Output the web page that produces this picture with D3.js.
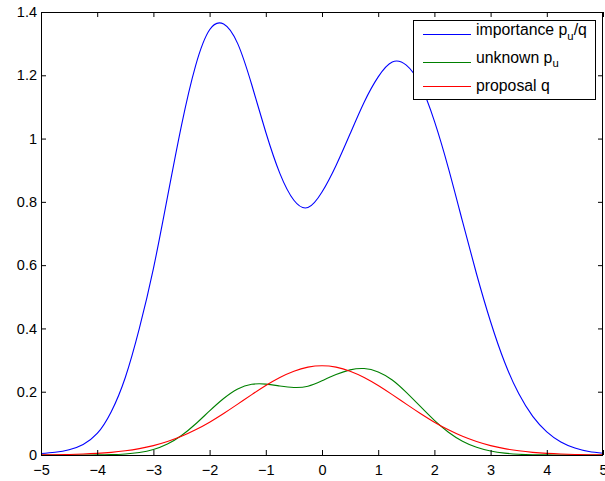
<!DOCTYPE html>
<html><head><meta charset="utf-8">
<script src="https://cdn.jsdelivr.net/npm/d3@7/dist/d3.min.js"></script>
<style>
body{margin:0;background:#fff}
svg{display:block}
text{font-family:"Liberation Sans",Arial,Helvetica,sans-serif}
</style>
</head><body>
<svg id="chart" width="605" height="481"></svg>
<script>
// ---- data ----
const xs = [-5,-4.75,-4.5,-4.25,-4,-3.75,-3.5,-3.25,-3,-2.75,-2.5,-2.25,-2,-1.75,-1.5,-1.25,-1,-0.75,-0.5,-0.25,
            0,0.25,0.5,0.75,1,1.25,1.5,1.75,2,2.25,2.5,2.75,3,3.25,3.5,3.75,4,4.25,4.5,4.75,5];
const importance = [0.0045,0.0085,0.0165,0.0335,0.068,0.137,0.245,0.400,0.589,0.815,1.042,1.230,1.344,1.362,1.300,1.170,1.020,0.890,0.805,0.782,
                    0.831,0.915,1.015,1.115,1.195,1.242,1.232,1.170,1.055,0.906,0.738,0.572,0.421,0.293,0.194,0.122,0.073,0.041,0.022,0.011,0.0055];
const unknown = [0.0000024,0.0000085,0.00003,0.000104,0.000352,0.00115,0.00323,0.00804,0.0175,0.0347,0.0616,0.0979,0.1395,0.1787,0.2089,0.2234,0.2241,0.2181,0.2133,0.2172,
                 0.2344,0.2541,0.2690,0.2733,0.2625,0.2371,0.1980,0.1535,0.1095,0.0721,0.0436,0.0244,0.0125,0.0059,0.0026,0.0010,0.00038,0.00013,0.00004,0.000011,0.000003];
const proposal = [0.00054,0.00100,0.00179,0.00309,0.00517,0.00839,0.0132,0.0201,0.0297,0.0426,0.0591,0.0796,0.1038,0.1312,0.1607,0.1909,0.2197,0.2451,0.2650,0.2777,
                  0.2821,0.2777,0.2650,0.2451,0.2197,0.1909,0.1607,0.1312,0.1038,0.0796,0.0591,0.0426,0.0297,0.0201,0.0132,0.00839,0.00517,0.00309,0.00179,0.00100,0.00054];
const xTicks = [-5,-4,-3,-2,-1,0,1,2,3,4,5];
const yTicks = [0,0.2,0.4,0.6,0.8,1,1.2,1.4];
const seriesColors = ["#0000ff", "#008000", "#ff0000"];

// ---- layout ----
const L = 41, R = 603, T = 12, B = 455;
const svg = d3.select("#chart");
const x = d3.scaleLinear().domain([-5, 5]).range([L, R]);
const y = d3.scaleLinear().domain([0, 1.4]).range([B, T]);

svg.append("defs").append("clipPath").attr("id", "clip")
  .append("rect").attr("x", L).attr("y", T).attr("width", R - L).attr("height", B - T);

const tickFont = 14.5, legendFont = 15.8, subFont = 11.3;
const fmt = d => d3.format("")(d).replace("-", "\u2212");

// curves
const seriesData = [importance, unknown, proposal];
const line = d3.line().x(d => x(d[0])).y(d => y(d[1])).curve(d3.curveNatural);
const plot = svg.append("g").attr("clip-path", "url(#clip)");
seriesData.forEach((vals, i) => {
  plot.append("path")
    .datum(xs.map((v, j) => [v, vals[j]]))
    .attr("fill", "none")
    .attr("stroke", seriesColors[i])
    .attr("stroke-width", 1.1)
    .attr("d", line);
});

// axes (MATLAB-style ticks inside, box)
const gx = svg.append("g").attr("transform", `translate(0,${B})`)
  .call(d3.axisBottom(x).tickValues(xTicks).tickSizeInner(-5).tickSizeOuter(0).tickPadding(10).tickFormat(fmt));
const gxt = svg.append("g").attr("transform", `translate(0,${T})`)
  .call(d3.axisTop(x).tickValues(xTicks).tickSizeInner(-5).tickSizeOuter(0).tickFormat(""));
const gy = svg.append("g").attr("transform", `translate(${L},0)`)
  .call(d3.axisLeft(y).tickValues(yTicks).tickSizeInner(-5).tickSizeOuter(0).tickPadding(4).tickFormat(fmt));
const gyr = svg.append("g").attr("transform", `translate(${R},0)`)
  .call(d3.axisRight(y).tickValues(yTicks).tickSizeInner(-5).tickSizeOuter(0).tickFormat(""));
[gx, gxt, gy, gyr].forEach(g => {
  g.select(".domain").remove();
  g.selectAll("line").attr("stroke", "#000");
  g.selectAll("text").attr("fill", "#000").style("font-size", tickFont + "px");
});

svg.append("rect").attr("x", L + 0.5).attr("y", T + 0.5).attr("width", R - L - 1).attr("height", B - T)
  .attr("fill", "none").attr("stroke", "#000").attr("stroke-width", 1);

// legend
const lg = svg.append("g");
lg.append("rect").attr("x", 413.5).attr("y", 20.5).attr("width", 182).attr("height", 79)
  .attr("fill", "#fff").attr("stroke", "#000").attr("stroke-width", 1);
const rowsY = [34, 62, 86];
const baseY = [35, 62.5, 91];
rowsY.forEach((ry, i) => {
  lg.append("line").attr("x1", 423).attr("x2", 471).attr("y1", ry + 0.5).attr("y2", ry + 0.5)
    .attr("stroke", seriesColors[i]).attr("stroke-width", 1.1);
});
const t0 = lg.append("text").attr("x", 476).attr("y", baseY[0]).style("font-size", legendFont + "px");
t0.append("tspan").text("importance p");
t0.append("tspan").attr("dy", 4.5).style("font-size", subFont + "px").text("u");
t0.append("tspan").attr("dy", -4.5).text("/q");
const t1 = lg.append("text").attr("x", 476).attr("y", baseY[1]).style("font-size", legendFont + "px");
t1.append("tspan").text("unknown p");
t1.append("tspan").attr("dy", 4.5).style("font-size", subFont + "px").text("u");
lg.append("text").attr("x", 476).attr("y", baseY[2]).style("font-size", legendFont + "px").text("proposal q");
</script>
</body></html>
